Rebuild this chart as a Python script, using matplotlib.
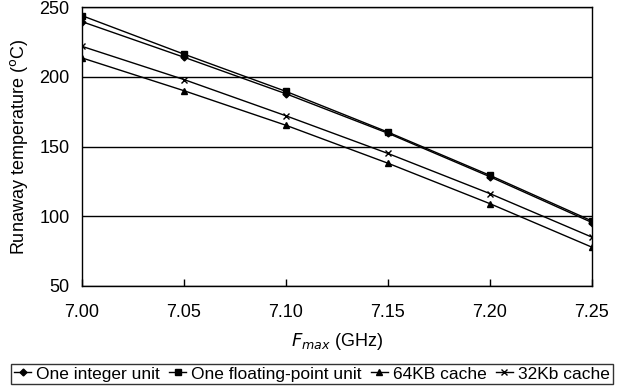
import matplotlib
matplotlib.use("Agg")
import matplotlib.pyplot as plt

plt.rcParams['font.family'] = ['Liberation Sans', 'DejaVu Sans']

fmax = [7.00, 7.05, 7.10, 7.15, 7.20, 7.25]
integer_unit = [239.5, 214.0, 187.8, 159.5, 128.3, 95.5]
fp_unit = [243.8, 216.2, 189.5, 160.3, 129.3, 96.6]
cache_64kb = [213.5, 190.0, 165.2, 138.0, 109.0, 77.8]
cache_32kb = [221.8, 198.0, 172.0, 145.0, 116.2, 85.0]

fig = plt.figure(figsize=(6.24, 3.9), dpi=100)
ax = fig.add_axes([0.1314, 0.2667, 0.8173, 0.7153])

kw = dict(color="black", linewidth=1.0)
ax.plot(fmax, integer_unit, marker="D", markersize=3.5, label="One integer unit", **kw)
ax.plot(fmax, fp_unit, marker="s", markersize=4, label="One floating-point unit", **kw)
ax.plot(fmax, cache_64kb, marker="^", markersize=4.5, label="64KB cache", **kw)
ax.plot(fmax, cache_32kb, marker="x", markersize=5, markeredgewidth=1.0, label="32Kb cache", **kw)

ax.set_xlim(7.00, 7.25)
ax.set_ylim(50, 250)
ax.set_xticks(fmax)
ax.set_xticklabels([f"{v:.2f}" for v in fmax])
ax.set_yticks([50, 100, 150, 200, 250])
ax.yaxis.grid(True, color="black", linewidth=1.0)
ax.tick_params(axis="x", direction="in", length=5, width=1, labelsize=13, pad=13, colors="black")
ax.tick_params(axis="y", length=0, labelsize=13, pad=9)
for sp in ax.spines.values():
    sp.set_color("black")
    sp.set_linewidth(1.0)

ax.set_ylabel("Runaway temperature ($^{\\rm o}$C)", fontsize=13, labelpad=7)
ax.set_xlabel("$F_{max}$ (GHz)", fontsize=13, labelpad=7)

leg = fig.legend(loc="lower center", bbox_to_anchor=(0.5, 0.015), ncol=4, fontsize=12.5,
                 frameon=True, fancybox=False, edgecolor="black", handlelength=1.0,
                 handletextpad=0.3, columnspacing=0.5, borderpad=0.15, borderaxespad=0)
leg.get_frame().set_linewidth(1.0)

fig.savefig("out.png", dpi=100)
